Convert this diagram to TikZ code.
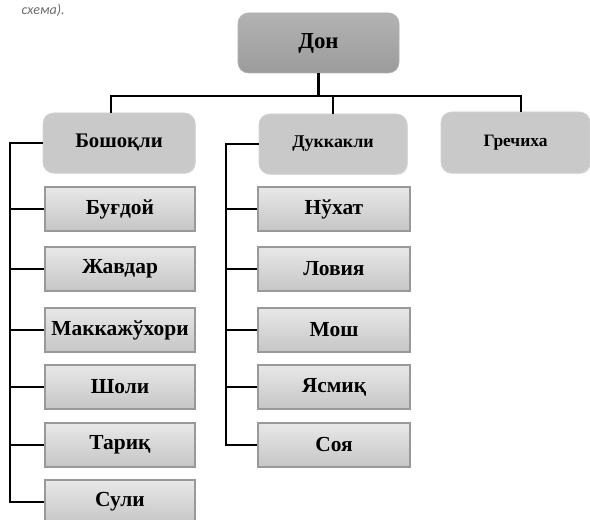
\documentclass[tikz,border=0pt]{standalone}
\usepackage{fontspec}
\setmainfont{Liberation Serif}
\newfontfamily\notefont{Carlito}
\usepackage{tikz}
\usetikzlibrary{shapes,arrows,shadows}
\tikzstyle{link} = [draw, line width=1.5pt, black]
\tikzstyle{rootbox} = [rounded corners=6pt, draw=gray!60, top color=gray!60, bottom color=gray!78, minimum width=3.22cm, minimum height=1.2cm, font=\fontsize{13}{15}\selectfont\bfseries]
\tikzstyle{groupbox} = [rounded corners=6pt, draw=gray!35, fill=gray!42, drop shadow={shadow xshift=0.5pt, shadow yshift=-0.5pt, opacity=0.25}, minimum height=1.2cm, font=\fontsize{11.8}{13}\selectfont\bfseries]
\tikzstyle{leafbox} = [draw=gray!80, line width=0.8pt, top color=gray!18, bottom color=gray!45, drop shadow={shadow xshift=0.6pt, shadow yshift=-0.6pt, opacity=0.3}, minimum width=3cm, minimum height=0.88cm, inner sep=0pt, font=\fontsize{12.2}{14}\selectfont\bfseries]

\begin{document}
\begin{tikzpicture}[auto]
\useasboundingbox[fill=white] (0,0) rectangle (11.8,-10.4);

% cut-off line of the page text above
\node[anchor=base east, inner sep=0pt, text=gray!85!black, font=\notefont\itshape\fontsize{8}{9}\selectfont] at (1.30,-0.30) (note) {схема).};

\node[rootbox] at (6.37,-0.86) (don) {Дон};

\node[groupbox, minimum width=3.04cm] at (2.38,-2.86) (bosh) {Бошоқли};
\node[groupbox, minimum width=2.96cm, font=\fontsize{10.2}{12}\selectfont\bfseries] at (6.66,-2.88) (dukk) {Дуккакли};
\node[groupbox, minimum width=2.98cm, minimum height=1.22cm, font=\fontsize{9.9}{12}\selectfont\bfseries] at (10.31,-2.85) (grech) {Гречиха};

% cereals
\node[leafbox] at (2.40,-4.18) (bugd) {Буғдой};
\node[leafbox] at (2.40,-5.38) (javd) {Жавдар};
\node[leafbox] at (2.40,-6.60) (makk) {Маккажўхори};
\node[leafbox] at (2.40,-7.74) (sholi) {Шоли};
\node[leafbox] at (2.40,-8.90) (tariq) {Тариқ};
\node[leafbox] at (2.40,-10.04) (suli) {Сули};

% legumes
\node[leafbox, minimum width=3.04cm] at (6.68,-4.18) (nukh) {Нўхат};
\node[leafbox, minimum width=3.04cm] at (6.68,-5.38) (lov) {Ловия};
\node[leafbox, minimum width=3.04cm] at (6.68,-6.60) (mosh) {Мош};
\node[leafbox, minimum width=3.04cm] at (6.68,-7.74) (yasm) {Ясмиқ};
\node[leafbox, minimum width=3.04cm] at (6.68,-8.90) (soya) {Соя};

% top level links
\coordinate (busL) at (2.22,-1.92);
\coordinate (busR) at (10.42,-1.92);
\path[link] (busL |- bosh.north) -- (busL) -- (busR) -- (busR |- grech.north);
\path[link] (don.south) -- (don.south |- busL);
\path[link] (dukk.north) -- (dukk.north |- busL);

% left bracket
\coordinate (spineL) at (0.2,-2.86);
\path[link] (bosh.west) -- (spineL) |- (suli.west);
\path[link] (spineL |- bugd.west) -- (bugd.west);
\path[link] (spineL |- javd.west) -- (javd.west);
\path[link] (spineL |- makk.west) -- (makk.west);
\path[link] (spineL |- sholi.west) -- (sholi.west);
\path[link] (spineL |- tariq.west) -- (tariq.west);

% right bracket
\coordinate (spineR) at (4.52,-2.88);
\path[link] (dukk.west) -- (spineR) |- (soya.west);
\path[link] (spineR |- nukh.west) -- (nukh.west);
\path[link] (spineR |- lov.west) -- (lov.west);
\path[link] (spineR |- mosh.west) -- (mosh.west);
\path[link] (spineR |- yasm.west) -- (yasm.west);
\end{tikzpicture}
\end{document}
